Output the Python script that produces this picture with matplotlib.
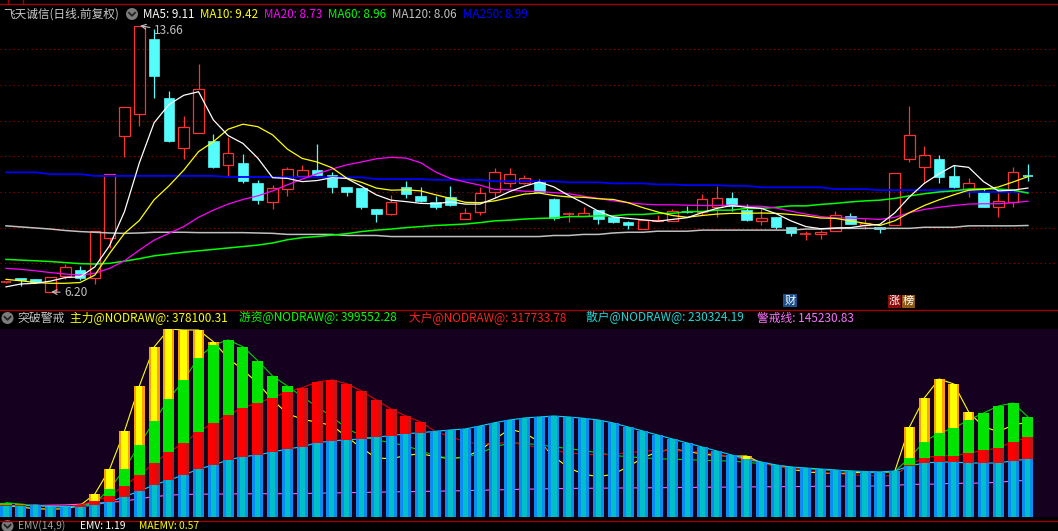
import matplotlib
matplotlib.use('Agg')
import matplotlib.pyplot as plt
from matplotlib.patches import Rectangle, Ellipse
from matplotlib.lines import Line2D
import numpy as np

plt.rcParams['font.family'] = ['Noto Sans CJK SC', 'DejaVu Sans']

W, H = 1058, 531

# ---------------- price data (one entry per trading day) ----------------
open_ = [6.48, 6.58, 6.56, 6.20, 6.65, 6.81, 6.58, 7.70, 10.58, 11.18,
         13.29, 11.63, 10.22, 10.64, 10.43, 9.75, 9.80, 9.24, 8.73, 9.09,
         9.46, 9.62, 9.48, 9.14, 9.11, 8.52, 8.39, 9.14, 8.89, 8.72,
         8.86, 8.23, 8.43, 9.01, 9.24, 9.24, 9.27, 8.80, 8.38, 8.33,
         8.49, 8.31, 8.16, 7.97, 8.18, 8.18, 8.43, 8.45, 8.59, 8.83,
         8.49, 8.19, 8.30, 8.01, 7.81, 7.81, 7.90, 8.33, 8.07, 8.03,
         8.08, 9.92, 9.69, 9.92, 9.45, 9.07, 9.01, 8.59, 8.73, 9.46]
high = [6.48, 6.58, 6.56, 6.62, 6.97, 6.92, 7.90, 9.50, 11.37, 13.66,
        13.56, 11.83, 11.13, 12.60, 10.62, 10.55, 10.06, 9.33, 9.20, 9.70,
        9.76, 10.34, 9.57, 9.14, 9.11, 8.52, 8.91, 9.31, 9.14, 8.89,
        9.17, 8.55, 9.15, 9.68, 9.67, 9.47, 9.35, 8.84, 8.44, 8.58,
        8.49, 8.33, 8.19, 8.21, 8.35, 8.52, 8.61, 8.94, 9.18, 9.00,
        8.66, 8.54, 8.30, 8.01, 7.91, 7.92, 8.46, 8.40, 8.23, 8.03,
        9.52, 11.41, 10.29, 10.04, 9.76, 9.38, 9.07, 8.96, 9.71, 9.78]
low = [6.45, 6.37, 6.44, 6.20, 6.56, 6.53, 6.42, 7.42, 9.99, 10.85,
       11.64, 10.41, 9.92, 10.64, 9.68, 9.43, 9.24, 8.65, 8.52, 8.90,
       9.46, 9.45, 8.98, 8.90, 8.53, 8.17, 8.36, 8.82, 8.71, 8.53,
       8.61, 8.23, 8.36, 8.82, 9.13, 9.22, 8.98, 8.21, 8.16, 8.33,
       8.11, 8.13, 7.97, 7.97, 8.18, 8.18, 8.42, 8.35, 8.31, 8.47,
       8.19, 8.07, 7.97, 7.77, 7.64, 7.69, 7.90, 8.11, 7.95, 7.86,
       8.08, 9.85, 9.24, 9.24, 9.12, 8.87, 8.59, 8.31, 8.59, 9.32]
close = [6.48, 6.53, 6.47, 6.62, 6.89, 6.60, 7.90, 9.50, 11.37, 13.66,
         12.26, 10.44, 10.81, 11.88, 9.71, 10.08, 9.32, 8.78, 9.10, 9.64,
         9.61, 9.48, 9.15, 9.00, 8.58, 8.39, 8.73, 8.93, 8.75, 8.57,
         8.63, 8.40, 8.97, 9.55, 9.50, 9.38, 8.99, 8.26, 8.39, 8.41,
         8.25, 8.17, 8.07, 8.21, 8.22, 8.46, 8.42, 8.79, 8.82, 8.61,
         8.21, 8.26, 8.03, 7.84, 7.82, 7.89, 8.35, 8.11, 8.12, 7.96,
         9.52, 10.59, 10.03, 9.43, 9.15, 9.24, 8.59, 8.74, 9.55, 9.45]

ma5 = [6.34, 6.42, 6.44, 6.50, 6.60, 6.62, 6.90, 7.50, 8.45, 9.81,
       10.94, 11.45, 11.71, 11.81, 11.02, 10.58, 10.36, 9.95, 9.40, 9.38,
       9.29, 9.32, 9.40, 9.38, 9.16, 8.92, 8.77, 8.73, 8.68, 8.67,
       8.72, 8.66, 8.66, 8.82, 9.01, 9.16, 9.28, 9.14, 8.90, 8.69,
       8.46, 8.30, 8.26, 8.22, 8.18, 8.23, 8.28, 8.42, 8.54, 8.62,
       8.57, 8.54, 8.39, 8.19, 8.03, 7.97, 7.99, 8.00, 8.06, 8.09,
       8.41, 8.86, 9.24, 9.51, 9.74, 9.69, 9.29, 9.03, 9.05, 9.11]
ma10 = [6.55, 6.51, 6.46, 6.44, 6.44, 6.46, 6.67, 7.28, 7.84, 8.20,
        8.78, 9.17, 9.61, 10.13, 10.41, 10.76, 10.90, 10.83, 10.60, 10.20,
        9.94, 9.84, 9.68, 9.39, 9.27, 9.11, 9.05, 9.06, 9.03, 8.92,
        8.82, 8.71, 8.70, 8.75, 8.84, 8.94, 8.97, 8.90, 8.86, 8.85,
        8.81, 8.79, 8.70, 8.56, 8.44, 8.34, 8.29, 8.34, 8.38, 8.40,
        8.40, 8.41, 8.40, 8.37, 8.33, 8.27, 8.26, 8.19, 8.12, 8.06,
        8.19, 8.42, 8.62, 8.78, 8.92, 9.05, 9.07, 9.14, 9.28, 9.43]
ma20 = [6.86, 6.83, 6.79, 6.74, 6.70, 6.67, 6.72, 6.86, 7.07, 7.37,
        7.65, 7.84, 8.03, 8.29, 8.49, 8.66, 8.79, 8.89, 9.03, 9.20,
        9.36, 9.51, 9.64, 9.76, 9.84, 9.93, 9.97, 9.95, 9.82, 9.56,
        9.38, 9.28, 9.19, 9.07, 9.06, 9.02, 9.01, 8.98, 8.95, 8.88,
        8.82, 8.75, 8.70, 8.66, 8.64, 8.64, 8.63, 8.62, 8.62, 8.63,
        8.60, 8.60, 8.55, 8.46, 8.38, 8.31, 8.27, 8.27, 8.25, 8.23,
        8.29, 8.42, 8.51, 8.57, 8.62, 8.66, 8.67, 8.67, 8.70, 8.74]
ma60 = [7.11, 7.09, 7.07, 7.05, 7.02, 6.99, 6.98, 7.00, 7.06, 7.13,
        7.21, 7.26, 7.31, 7.35, 7.39, 7.43, 7.47, 7.51, 7.57, 7.66,
        7.72, 7.75, 7.79, 7.83, 7.89, 7.93, 7.96, 8.00, 8.03, 8.06,
        8.08, 8.10, 8.14, 8.19, 8.21, 8.24, 8.26, 8.27, 8.31, 8.31,
        8.33, 8.33, 8.37, 8.37, 8.40, 8.40, 8.45, 8.45, 8.49, 8.49,
        8.54, 8.54, 8.57, 8.61, 8.61, 8.65, 8.68, 8.72, 8.75, 8.77,
        8.82, 8.89, 8.95, 9.00, 9.03, 9.08, 9.09, 9.08, 9.05, 8.97]
ma120 = [8.05, 8.02, 7.99, 7.96, 7.92, 7.89, 7.87, 7.85, 7.84, 7.85,
         7.87, 7.87, 7.87, 7.86, 7.86, 7.86, 7.86, 7.85, 7.84, 7.81,
         7.81, 7.81, 7.81, 7.78, 7.78, 7.78, 7.75, 7.75, 7.75, 7.75,
         7.75, 7.75, 7.75, 7.75, 7.75, 7.75, 7.75, 7.78, 7.78, 7.81,
         7.81, 7.85, 7.87, 7.87, 7.90, 7.90, 7.90, 7.93, 7.93, 7.93,
         7.93, 7.93, 7.93, 7.93, 7.96, 7.96, 7.98, 7.98, 7.98, 7.98,
         7.98, 7.98, 8.01, 8.01, 8.01, 8.05, 8.05, 8.05, 8.05, 8.06]
ma250 = [9.55, 9.55, 9.55, 9.50, 9.50, 9.50, 9.45, 9.45, 9.45, 9.45,
         9.45, 9.45, 9.45, 9.45, 9.45, 9.42, 9.42, 9.42, 9.42, 9.41,
         9.41, 9.41, 9.41, 9.41, 9.41, 9.36, 9.36, 9.36, 9.36, 9.34,
         9.34, 9.34, 9.34, 9.30, 9.30, 9.30, 9.30, 9.30, 9.27, 9.27,
         9.27, 9.24, 9.24, 9.24, 9.21, 9.21, 9.19, 9.19, 9.19, 9.17,
         9.17, 9.13, 9.13, 9.13, 9.13, 9.13, 9.08, 9.08, 9.08, 9.05,
         9.05, 9.05, 9.05, 9.05, 9.05, 9.00, 9.00, 9.00, 9.00, 8.99]

# ---------------- indicator "突破警戒" (values in thousands) ----------------
zhuli = [45, 38, 32, 30, 32, 45, 90.8, 190.8, 342.8, 522.8,
         678.8, 750.8, 746.8, 746.8, 700.0, 634.0, 587.0, 534.0, 467.0, 412.0,
         390, 378, 365, 320, 275, 235, 232, 245, 252, 240,
         232, 240, 265, 310, 350, 335, 300, 240, 195, 170,
         160, 170, 200, 235, 260, 270, 262, 250, 245, 242,
         243, 215, 205, 190, 180, 175, 172, 175, 178, 176,
         180, 358.8, 474.8, 550.8, 530.8, 418.8, 360, 340, 366.8, 378.1]
youzi = [56, 50.7, 44, 40, 40, 42, 55, 110.8, 190.8, 286.8,
         382.8, 470.8, 546.8, 636.0, 686.8, 706.8, 680.0, 624.0, 562.8, 522.8,
         480, 440, 400, 354, 323, 307, 296, 284, 264, 243,
         234, 236, 254, 280, 294, 294, 287, 280, 272, 265,
         255, 245, 240, 235, 232, 230, 228, 226, 224, 222,
         218, 212, 205, 198, 192, 188, 185, 182, 179, 176,
         180, 236, 300, 334.8, 354.8, 386.8, 414.8, 442.8, 454.8, 399.6]
dahu = [46, 45, 46.8, 40, 40, 46.8, 64, 84, 124, 166.8,
        213.6, 258.8, 294.8, 340.0, 374.8, 406.8, 436.0, 456.0, 476.0, 500.0,
        516.0, 538.8, 546.8, 532.0, 502.8, 466.8, 430.8, 402.8, 378.8, 340.0,
        320, 300, 290, 292, 298, 288, 276, 265, 255, 250,
        248, 250, 256, 262, 266, 265, 262, 258, 250, 240,
        228, 215, 202, 192, 185, 178, 172, 168, 165, 162,
        165, 206.8, 236, 244, 244, 254.8, 264.8, 276, 300, 317.7]
sanhu = [42.8, 42.8, 46.8, 40.0, 40.0, 40.0, 46.8, 60.0, 80.0, 102.8,
         126.8, 146.8, 166.8, 190.8, 206.8, 226.8, 240.0, 246.8, 258.8, 270.8,
         280.0, 296.0, 302.8, 308.0, 310.8, 318.8, 324.0, 332.0, 336.0, 341.6,
         346.8, 350.8, 362.8, 376.0, 386.8, 394.8, 398.8, 402.8, 398.8, 393.6,
         386.8, 374.8, 358.8, 342.8, 326.8, 310.8, 294.8, 278.8, 262.8, 246.8,
         230.8, 218.8, 206.8, 198.8, 194.8, 190.8, 186.8, 182.8, 180.8, 178.8,
         182.8, 202.8, 214.8, 218.8, 218.8, 214.8, 214.8, 214.8, 224.0, 230.3]
jingjie = [44, 44, 45, 46, 47, 50, 53.6, 57.6, 62, 72,
           80, 86, 89, 90, 90.5, 91, 91.5, 92, 92, 92,
           92.5, 94, 95, 96, 97, 98, 99, 100, 101, 102,
           103, 104, 106, 107, 108.5, 110, 111, 112, 113, 113.6,
           114, 114.5, 115, 115.5, 116, 116.5, 117, 117.5, 118, 118.5,
           119, 119.5, 120, 120.5, 121, 121.5, 122, 122.3, 122.6, 122.8,
           125, 129.6, 129.6, 131, 133.6, 133.6, 135, 137.6, 142.8, 145.2]

grid_prices = [7, 8, 9, 10, 11, 12, 13]

ma_header = [("MA5: 9.11", 143, '#ffffff'), ("MA10: 9.42", 200, '#ffff00'),
             ("MA20: 8.73", 264, '#ff00ff'), ("MA60: 8.96", 328, '#00ff00'),
             ("MA120: 8.06", 392, '#c0c0c0'), ("MA250: 8.99", 463, '#0000ff')]
ind_header = [("主力@NODRAW@: 378100.31", 70, '#ffff00'),
              ("游资@NODRAW@: 399552.28", 239, '#00ff00'),
              ("大户@NODRAW@: 317733.78", 409, '#ff2020'),
              ("散户@NODRAW@: 230324.19", 586, '#20d8d8'),
              ("警戒线: 145230.83", 757, '#ff70ff')]

# ---------------- figure ----------------
fig = plt.figure(figsize=(W / 100, H / 100), dpi=100, facecolor='black')


def fx(px):
    return px / W


def fy(py):
    return 1 - py / H


ax1 = fig.add_axes([0, fy(309), 1, (309 - 4) / H])
ax2 = fig.add_axes([0, fy(517), 1, (517 - 329) / H])
for ax in (ax1, ax2):
    ax.set_xticks([])
    ax.set_yticks([])
    for s in ax.spines.values():
        s.set_visible(False)
    ax.set_xlim(-0.405, 71.03)
ax1.set_facecolor('black')
ax2.set_facecolor('#150020')
ax1.set_ylim(5.719, 14.269)
ax2.set_ylim(-1.2, 750.8)

x = np.arange(len(close))

# grid
for p in grid_prices:
    ax1.axhline(p, color='#a00000', lw=0.8, ls=(0, (1, 3)), zorder=1)

# candles
UP = '#ff3232'
DOWN = '#54fcfc'
bw = 0.72
for i in x:
    o, h, l, c = open_[i], high[i], low[i], close[i]
    if c >= o:
        top, bot = c, o
        if h > top:
            ax1.vlines(i, top, h, color=UP, lw=0.9, zorder=2)
        if l < bot:
            ax1.vlines(i, l, bot, color=UP, lw=0.9, zorder=2)
        if top - bot < 0.02:
            ax1.hlines(top, i - bw / 2, i + bw / 2, color=UP, lw=1.2, zorder=2)
        else:
            ax1.add_patch(Rectangle((i - bw / 2, bot), bw, top - bot, facecolor='none',
                                    edgecolor=UP, lw=0.9, zorder=2))
    else:
        ax1.vlines(i, l, h, color=DOWN, lw=0.9, zorder=2)
        if o - c < 0.02:
            ax1.hlines(o, i - bw / 2, i + bw / 2, color=DOWN, lw=1.2, zorder=2)
        else:
            ax1.add_patch(Rectangle((i - bw / 2, c), bw, o - c, facecolor=DOWN,
                                    edgecolor=DOWN, lw=0.5, zorder=2))

# moving averages
ax1.plot(x, ma250, color='#0000ff', lw=1.3, zorder=3)
ax1.plot(x, ma120, color='#c0c0c0', lw=1.1, zorder=3)
ax1.plot(x, ma60, color='#00ff00', lw=1.1, zorder=3)
ax1.plot(x, ma20, color='#ff00ff', lw=0.9, zorder=3)
ax1.plot(x, ma10, color='#ffff00', lw=0.9, zorder=3)
ax1.plot(x, ma5, color='#ffffff', lw=0.9, zorder=3)

# high / low labels
imax = int(np.argmax(high))
imin = int(np.argmin(low))
ax1.annotate(f"{high[imax]:.2f}", xy=(imax + 0.05, high[imax]), xytext=(14, -5),
             textcoords='offset pixels', color='#c0c0c0', fontsize=8.6, va='center', ha='left',
             arrowprops=dict(arrowstyle='->', color='#c0c0c0', lw=0.8, shrinkA=1, shrinkB=0))
ax1.annotate(f"{low[imin]:.2f}", xy=(imin + 0.05, low[imin]), xytext=(13, -1),
             textcoords='offset pixels', color='#c0c0c0', fontsize=8.6, va='center', ha='left',
             arrowprops=dict(arrowstyle='->', color='#c0c0c0', lw=0.8, shrinkA=1, shrinkB=0))

# ---------------- indicator panel ----------------
BW2 = 0.743
left = x - BW2 / 2


def shaded(vals, parts, z):
    for f0, f1, col in parts:
        ax2.bar(left + f0 * BW2, vals, width=(f1 - f0) * BW2, align='edge',
                color=col, lw=0, zorder=z)


ax2.plot(x, jingjie, color='#ff60ff', lw=0.8, zorder=1)
ax2.plot(x, zhuli, color='#ffff00', lw=0.8, zorder=1)
ax2.plot(x, youzi, color='#00d000', lw=0.8, zorder=1)
ax2.plot(x, dahu, color='#e00000', lw=0.8, zorder=1)
ax2.plot(x, sanhu, color='#00d8ff', lw=0.8, zorder=1)

shaded(zhuli, [(0, 0.18, '#ffa000'), (0.18, 0.78, '#ffff00'), (0.78, 1.0, '#ffa000')], 2)
shaded(youzi, [(0, 1.0, '#00e400')], 3)
shaded(dahu, [(0, 0.68, '#ff0000'), (0.68, 1.0, '#c81414')], 4)
shaded(sanhu, [(0, 0.27, '#0a8cf5'), (0.27, 0.73, '#00bfc7'), (0.73, 1.0, '#0a8cf5')], 5)

# ---------------- separators & decorations ----------------
SEP = '#a00000'
for yy in (3.5, 309.5, 520.5):
    fig.add_artist(Line2D([0, 1], [fy(yy), fy(yy)], color=SEP, lw=1.0, transform=fig.transFigure))
fig.add_artist(Line2D([fx(7.5), fx(7.5)], [fy(0), fy(3.5)], color=SEP, lw=1.0, transform=fig.transFigure))
fig.add_artist(Line2D([fx(22.5), fx(22.5)], [fy(0), fy(3.5)], color=SEP, lw=1.0, transform=fig.transFigure))


def icon(cx, cy):
    fig.add_artist(Ellipse((fx(cx), fy(cy)), 12 / W, 12 / H, transform=fig.transFigure,
                           facecolor='#7c7c7c', edgecolor='none'))
    fig.add_artist(Line2D([fx(cx - 3), fx(cx), fx(cx + 3)], [fy(cy - 1.2), fy(cy + 1.8), fy(cy - 1.2)],
                          color='#222222', lw=1.3, transform=fig.transFigure))


def label_box(x0, x1, y0, y1, txt, bg):
    fig.add_artist(Rectangle((fx(x0), fy(y1)), (x1 - x0) / W, (y1 - y0) / H,
                             transform=fig.transFigure, facecolor=bg, edgecolor='none'))
    fig.text(fx((x0 + x1) / 2), fy((y0 + y1) / 2), txt, color='white', fontsize=8,
             ha='center', va='center')


# header of price panel
fig.text(fx(3), fy(14), "飞天诚信(日线.前复权)", color='#c8c8c8', fontsize=8.4, ha='left', va='center')
icon(132, 14)
for s, px, col in ma_header:
    fig.text(fx(px), fy(14), s, color=col, fontsize=8.4, ha='left', va='center')

# event labels
label_box(783, 797, 294, 307, "财", '#1c4f8c')
label_box(888, 901, 295, 307.5, "涨", '#8c0a0a')
label_box(902, 915, 295, 307.5, "榜", '#8c5a14')

# header of indicator panel
icon(7.5, 318)
fig.text(fx(17), fy(318), "突破警戒", color='#c0c0c0', fontsize=8.6, ha='left', va='center')
for s, px, col in ind_header:
    fig.text(fx(px), fy(318), s, color=col, fontsize=8.5, ha='left', va='center')

# EMV row
icon(7.5, 526)
fig.text(fx(18), fy(525.8), "EMV(14,9)", color='#a0a0a0', fontsize=7.4, ha='left', va='center')
fig.text(fx(80), fy(525.8), "EMV: 1.19", color='#ffffff', fontsize=7.4, ha='left', va='center')
fig.text(fx(139), fy(525.8), "MAEMV: 0.57", color='#ffff00', fontsize=7.4, ha='left', va='center')

fig.savefig('out.png', dpi=100, facecolor='black')
